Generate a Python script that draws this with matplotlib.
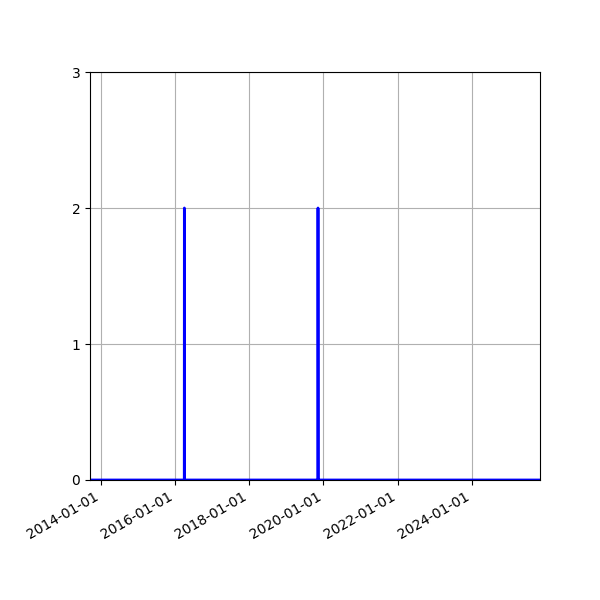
import numpy as np
import pandas as pd
import matplotlib
matplotlib.use("Agg")
import matplotlib.pyplot as plt
import matplotlib.dates as mdates

start_date = "2013-09-18"
end_date = "2025-10-30"
event_dates = ["2016-04-03", "2019-11-08"]
event_counts = [2, 2]

days = pd.date_range(start_date, end_date, freq="D")
counts = pd.Series(0, index=days)
for d, c in zip(event_dates, event_counts):
    counts[pd.Timestamp(d)] = c

fig = plt.figure(figsize=(6, 6), dpi=100)
ax = fig.add_subplot(111)
ax.plot(counts.index, counts.values, "b-", linewidth=2)
ax.set_xlim(days[0], days[-1])
ax.set_ylim(0, 3)
ax.set_yticks([0, 1, 2, 3])
ax.xaxis.set_major_locator(mdates.YearLocator(2))
ax.xaxis.set_major_formatter(mdates.DateFormatter("%Y-%m-%d"))
ax.grid(True)
fig.autofmt_xdate()
fig.subplots_adjust(left=0.15, right=0.9, top=0.88, bottom=0.2)
fig.savefig("out.png")
